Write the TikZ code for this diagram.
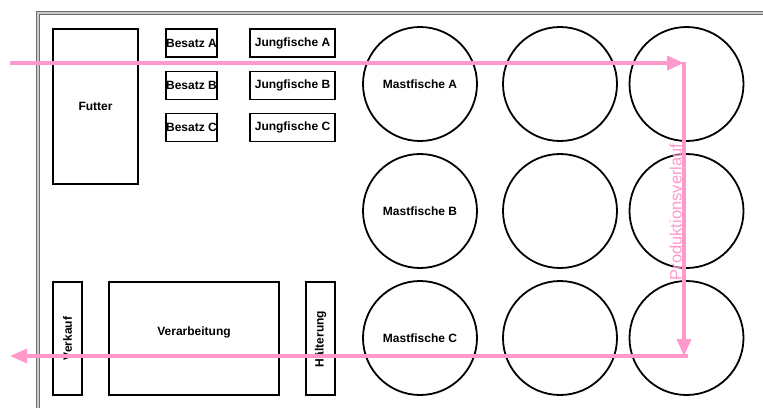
\documentclass[tikz,border=0pt]{standalone}
\usepackage{fontspec}
\setmainfont{Liberation Sans}
\usetikzlibrary{arrows.meta}
\definecolor{flowpink}{HTML}{FF99CC}
\begin{document}
\begin{tikzpicture}[x=1pt,y=-1pt,
  box/.style={draw=black, line width=1.8pt, rectangle, inner sep=0pt, font=\fontsize{12}{14}\selectfont\bfseries},
  tank/.style={draw=black, line width=1.8pt, circle, minimum size=114pt, inner sep=0pt, font=\fontsize{12}{14}\selectfont\bfseries},
  flow/.style={draw=flowpink, line width=3.6pt, -{Triangle[length=17pt,width=14pt]}},
  flowlabel/.style={text=flowpink, font=\fontsize{16.5}{19}\selectfont, rotate=90, inner sep=1pt}]
\useasboundingbox (0,0) rectangle (763,407);
\fill[white] (0,0) rectangle (763,407);
% frame
\draw[gray!85!black, line width=4.6pt] (38,420) -- (38,13) -- (790,13);
\draw[gray!40, line width=2.2pt] (38,420) -- (38,13) -- (790,13);
% boxes
\node[box, minimum width=85pt, minimum height=155pt] (futter) at (95.5,106.5) {Futter};
\node[box, minimum width=51pt, minimum height=28pt] (besA) at (191.5,43) {Besatz A};
\node[box, minimum width=51pt, minimum height=28pt] (besB) at (191.5,85.5) {Besatz B};
\node[box, minimum width=51pt, minimum height=28pt] (besC) at (191.5,127.5) {Besatz C};
\node[box, minimum width=85pt, minimum height=28pt] (jungA) at (292.5,43) {Jungfische A};
\node[box, minimum width=85pt, minimum height=28pt] (jungB) at (292.5,85.5) {Jungfische B};
\node[box, minimum width=85pt, minimum height=28pt] (jungC) at (292.5,127.5) {Jungfische C};
\node[box, minimum width=29pt, minimum height=113pt] (verkauf) at (67.5,338.5) {};
\node[box, draw=none, rotate=90] (verkaufT) at (67.5,338.5) {Verkauf};
\node[box, minimum width=170pt, minimum height=113pt] (verarb) at (194,338.5) {};
\node[box, draw=none] (verarbT) at (194,332) {Verarbeitung};
\node[box, minimum width=29pt, minimum height=113pt] (haelt) at (320.5,338.5) {};
\node[box, draw=none, rotate=90] (haeltT) at (320.5,339) {Hälterung};
% tanks
\node[tank] (mA) at (420,84) {Mastfische A};
\node[tank] (mB) at (420,211) {Mastfische B};
\node[tank] (mC) at (420,338) {Mastfische C};
\node[tank] (t12) at (560,84) {};
\node[tank] (t22) at (560,211) {};
\node[tank] (t32) at (560,338) {};
\node[tank] (t13) at (686.5,84) {};
\node[tank] (t23) at (686.5,211) {};
\node[tank] (t33) at (686.5,338) {};
% flow
\coordinate (fstart) at (10,63);
\coordinate (fc1) at (684,63);
\coordinate (fc1b) at (684,61.5);
\coordinate (fc2) at (684,356);
\coordinate (fc2b) at (688,356);
\coordinate (fend) at (10,356);
\draw[flow] (fstart) -- (fc1);
\draw[flow] (fc1b) -- (fc2);
\draw[flow] (fc2b) -- (fend);
\node[flowlabel, anchor=south] (plabel) at (683,212) {Produktionsverlauf};
\end{tikzpicture}
\end{document}
